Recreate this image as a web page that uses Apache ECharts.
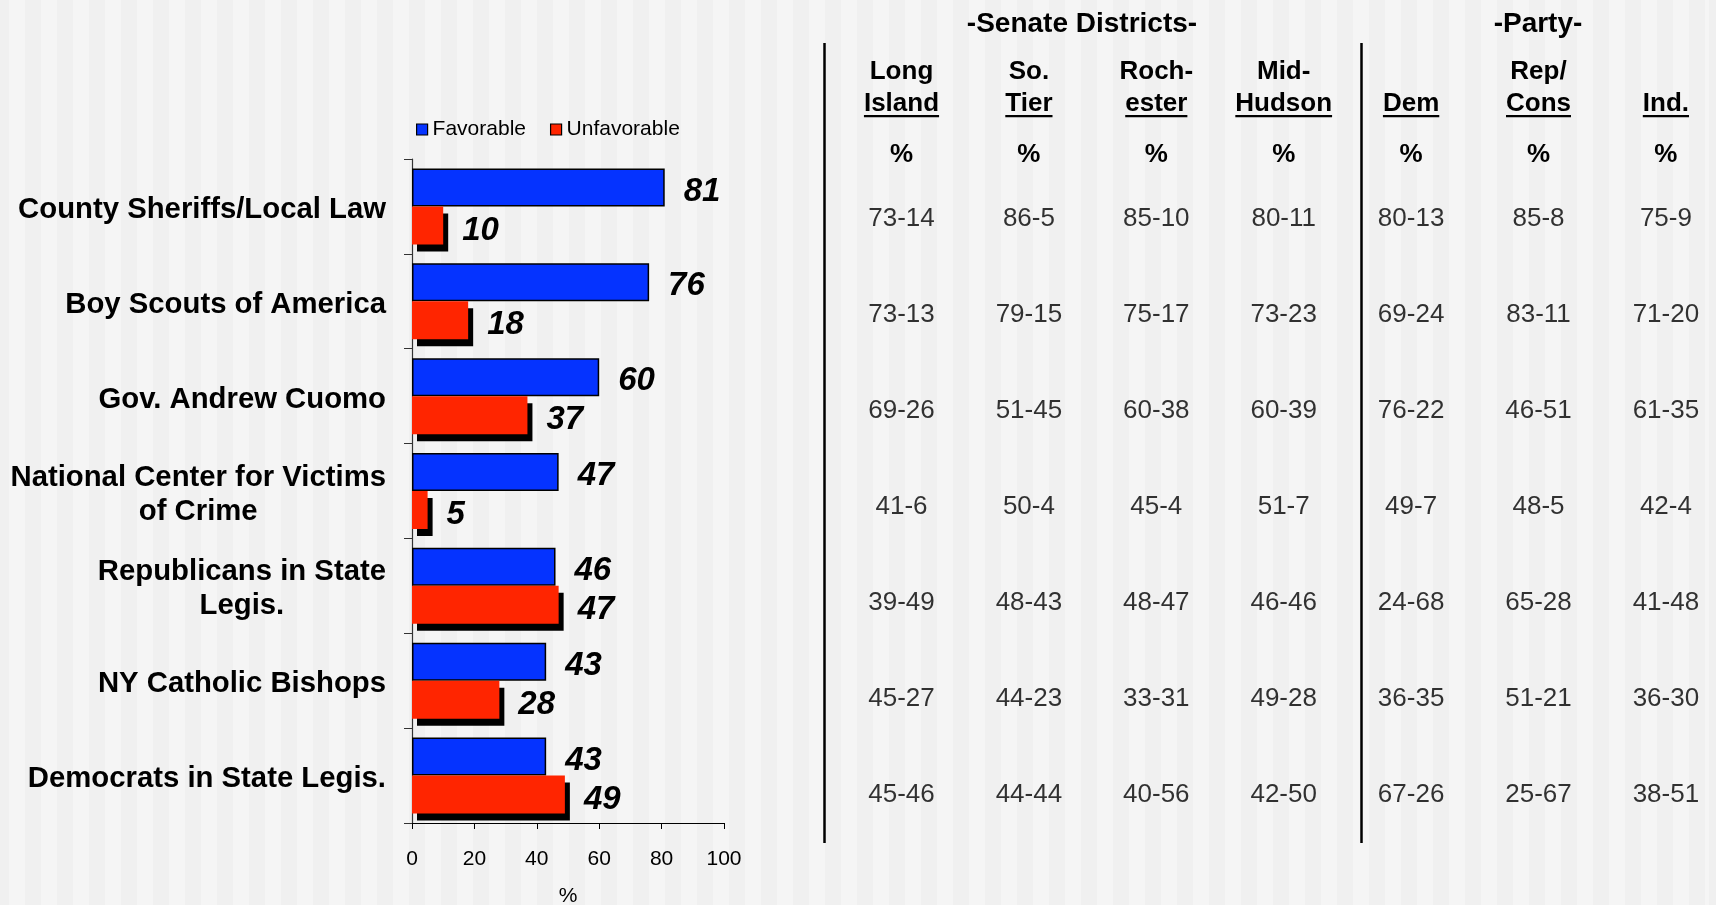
<!DOCTYPE html>
<html><head><meta charset="utf-8">
<script src="https://cdn.jsdelivr.net/npm/echarts@6/dist/echarts.min.js"></script>
<style>
html,body{margin:0;padding:0;}
#c{width:1716px;height:905px;background:repeating-linear-gradient(to right,#f0f0f0 0px,#f0f0f0 16px,#f5f5f5 16px,#f5f5f5 32px);background-position:-7px 0;}
</style></head><body><div id="c"></div>
<script>
const categories = ['County Sheriffs/Local Law','Boy Scouts of America','Gov. Andrew Cuomo','National Center for Victims\nof Crime','Republicans in State\nLegis.','NY Catholic Bishops','Democrats in State Legis.'];
const favorable = [81,76,60,47,46,43,43];
const unfavorable = [10,18,37,5,47,28,49];
const seriesNames = ['Favorable','Unfavorable'];
const xAxisName = '%';

const sectionHeaders = ['-Senate Districts-','-Party-'];
const columnLine1 = ['Long','So.','Roch-','Mid-','','Rep/',''];
const columnLine2 = ['Island','Tier','ester','Hudson','Dem','Cons','Ind.'];
const columnUnit = '%';
const longIsland = ['73-14','73-13','69-26','41-6','39-49','45-27','45-46'];
const soTier     = ['86-5','79-15','51-45','50-4','48-43','44-23','44-44'];
const rochester  = ['85-10','75-17','60-38','45-4','48-47','33-31','40-56'];
const midHudson  = ['80-11','73-23','60-39','51-7','46-46','49-28','42-50'];
const dem        = ['80-13','69-24','76-22','49-7','24-68','36-35','67-26'];
const repCons    = ['85-8','83-11','46-51','48-5','65-28','51-21','25-67'];
const ind        = ['75-9','71-20','61-35','42-4','41-48','36-30','38-51'];
const tableColumns = [longIsland, soTier, rochester, midHudson, dem, repCons, ind];

const FONT = '"Liberation Sans", Arial, sans-serif';
const chart = echarts.init(document.getElementById('c'), null, {renderer:'canvas'});

const barLabel = {
  show: true, position: 'right', distance: 19,
  color: '#000', fontSize: 33, fontWeight: 'bold', fontStyle: 'italic', fontFamily: FONT
};

const tableSeries = tableColumns.map((col, c) => ({
  type: 'scatter', xAxisIndex: 1, yAxisIndex: 1, silent: true,
  symbolSize: 1, itemStyle: {color: 'rgba(0,0,0,0)'},
  data: col.map((v, r) => [columnLine2[c], categories[r], v]),
  label: {show: true, position: 'inside', formatter: p => p.value[2],
          color: '#000', fontSize: 26, fontFamily: FONT}
}));

const option = {
  backgroundColor: 'transparent',
  animation: false,
  textStyle: {fontFamily: FONT},
  legend: {
    data: seriesNames, left: 411, top: 114, icon: 'rect',
    itemWidth: 11, itemHeight: 11, itemGap: 24, itemTextGap: 4,
    textStyle: {fontSize: 21, color: '#000', fontFamily: FONT},
    itemStyle: {borderColor: '#000', borderWidth: 1.2, shadowBlur: 0, shadowOffsetX: 0, shadowOffsetY: 0, shadowColor: 'rgba(0,0,0,0)'}
  },
  grid: [
    {left: 412, top: 159, width: 312, height: 664, outerBoundsMode: 'none', containLabel: false},
    {left: 901.5, top: 171, width: 764.4, height: 672, outerBoundsMode: 'none', containLabel: false}
  ],
  xAxis: [
    {type: 'value', gridIndex: 0, min: 0, max: 100, interval: 20,
     name: xAxisName, nameLocation: 'middle', nameGap: 63,
     nameTextStyle: {fontSize: 21, color: '#000', fontFamily: FONT},
     axisLine: {show: true, lineStyle: {color: '#000', width: 1.2}},
     axisTick: {show: true, length: 6, lineStyle: {color: '#000'}},
     axisLabel: {fontSize: 21, color: '#000', margin: 26, fontFamily: FONT},
     splitLine: {show: false}},
    {type: 'category', gridIndex: 1, data: columnLine2, boundaryGap: false, show: false}
  ],
  yAxis: [
    {type: 'category', gridIndex: 0, data: categories, inverse: true,
     axisLine: {show: true, lineStyle: {color: '#333', width: 1.2}},
     axisTick: {show: true, length: 8, lineStyle: {color: '#333'}},
     axisLabel: {margin: 26, color: '#000', fontSize: 29.3, fontWeight: 'bold', fontFamily: FONT,
       lineHeight: 34, padding: [7, 0, 0, 0],
       formatter: v => v.split('\n').map(s => '{c|' + s + '}').join('\n'),
       rich: {c: {align: 'center', fontSize: 29.3, fontWeight: 'bold', color: '#000', fontFamily: FONT, lineHeight: 34}}}},
    {type: 'category', gridIndex: 1, data: categories, inverse: true, show: false}
  ],
  series: [
    {name: seriesNames[0], type: 'bar', xAxisIndex: 0, yAxisIndex: 0,
     data: favorable, barWidth: 38, barGap: '0%',
     itemStyle: {color: '#0533FF', borderColor: '#000', borderWidth: 1.5},
     label: Object.assign({offset: [0, 4]}, barLabel)},
    {name: seriesNames[1], type: 'bar', xAxisIndex: 0, yAxisIndex: 0,
     data: unfavorable, barWidth: 38, barGap: '0%',
     itemStyle: {color: '#FF2500', borderWidth: 0,
                 shadowColor: '#000', shadowBlur: 0, shadowOffsetX: 5, shadowOffsetY: 7},
     label: Object.assign({offset: [0, 5]}, barLabel)},
    ...tableSeries
  ]
};
chart.setOption(option);

// Header block of the table, placed over the table columns
const measure = document.createElement('canvas').getContext('2d');
measure.font = 'bold 26px ' + FONT;
const hdrStyle = {fontSize: 26, fontWeight: 'bold', fill: '#000', fontFamily: FONT, textAlign: 'center', textVerticalAlign: 'middle'};
const graphics = [];
columnLine2.forEach((name, i) => {
  const x = chart.convertToPixel({xAxisIndex: 1}, name);
  if (columnLine1[i]) graphics.push({type: 'text', x: x, y: 72, style: Object.assign({text: columnLine1[i]}, hdrStyle)});
  graphics.push({type: 'text', x: x, y: 104, style: Object.assign({text: name}, hdrStyle)});
  const w = measure.measureText(name).width;
  graphics.push({type: 'rect', shape: {x: x - w / 2, y: 115, width: w, height: 2.2}, style: {fill: '#000'}});
  graphics.push({type: 'text', x: x, y: 155, style: Object.assign({text: columnUnit}, hdrStyle)});
});
graphics.push({type: 'text', x: 1082, y: 24, style: Object.assign({}, hdrStyle, {text: sectionHeaders[0], fontSize: 28})});
graphics.push({type: 'text', x: 1538, y: 24, style: Object.assign({}, hdrStyle, {text: sectionHeaders[1], fontSize: 28})});
graphics.push({type: 'line', shape: {x1: 824.5, y1: 43, x2: 824.5, y2: 843}, style: {stroke: '#000', lineWidth: 2.5}});
graphics.push({type: 'line', shape: {x1: 1361.5, y1: 43, x2: 1361.5, y2: 843}, style: {stroke: '#000', lineWidth: 2.5}});
chart.setOption({graphic: graphics});
</script></body></html>
